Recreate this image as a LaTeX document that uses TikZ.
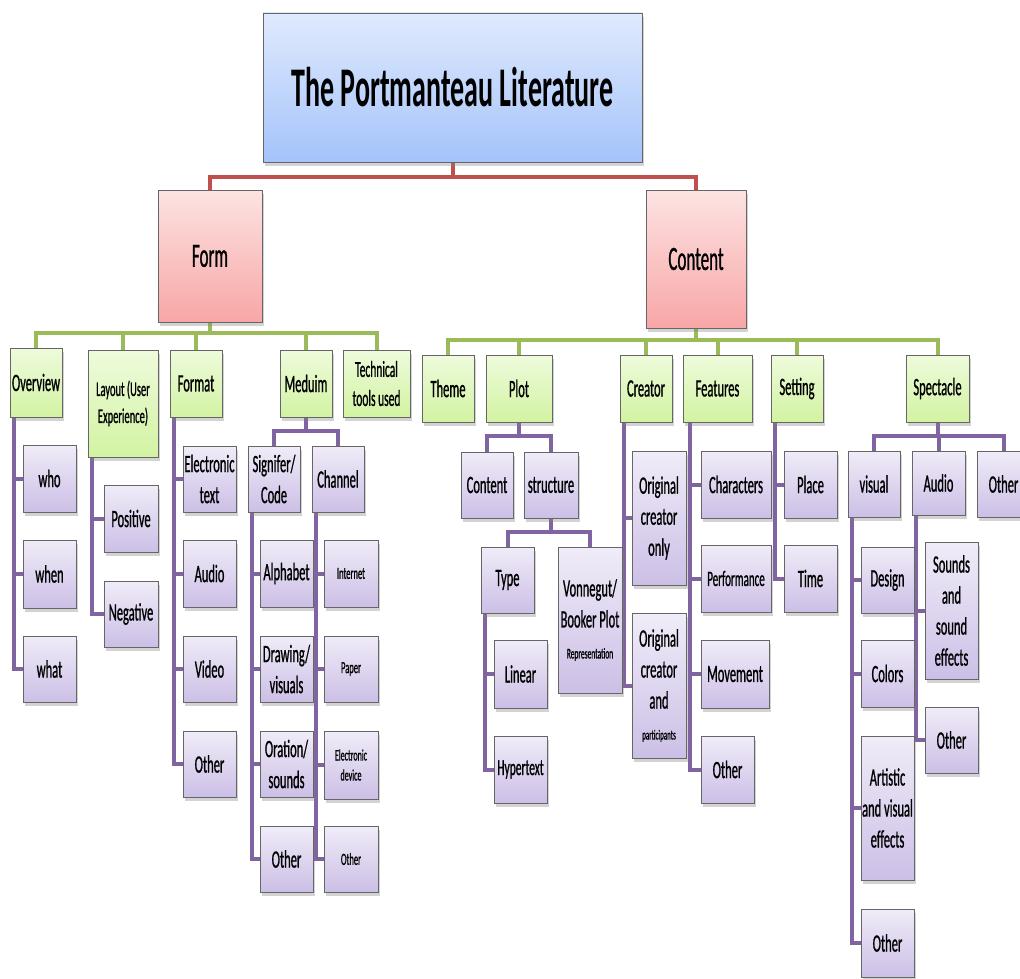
\documentclass[tikz,border=0pt]{standalone}
\usepackage{fontspec}
\setmainfont{Carlito}[FakeStretch=0.5, UprightFeatures={FakeBold=0.8}]
\usetikzlibrary{shadows,backgrounds}
\definecolor{gtop}{HTML}{EEFBDC}
\definecolor{gbot}{HTML}{D2F3A2}
\definecolor{ptop}{HTML}{F0ECF8}
\definecolor{pbot}{HTML}{CCBFE6}
\definecolor{rtop}{HTML}{FDE3E3}
\definecolor{rbot}{HTML}{F8A6A6}
\definecolor{btop}{HTML}{E0EAFD}
\definecolor{bbot}{HTML}{A4C3FA}
\definecolor{gline}{HTML}{9BBB59}
\definecolor{pline}{HTML}{8064A2}
\definecolor{rline}{HTML}{C0504D}
\tikzset{
  base/.style={draw=black!60, line width=0.8pt, inner sep=0pt, align=center,
    font=\fontsize{25}{31}\selectfont,
    drop shadow={shadow xshift=2pt, shadow yshift=-4pt, opacity=0.35}},
  gbox/.style={base, top color=gtop, bottom color=gbot},
  pbox/.style={base, top color=ptop, bottom color=pbot},
  rbox/.style={base, top color=rtop, bottom color=rbot, font=\fontsize{34}{40}\selectfont},
  bbox/.style={base, top color=btop, bottom color=bbot, font=\bfseries\fontsize{56}{60}\selectfont},
  conn/.style={line width=4pt},
  gl/.style={conn, draw=gline},
  pl/.style={conn, draw=pline},
  rl/.style={conn, draw=rline},
  small/.style={font=\fontsize{17}{20}\selectfont}
}
\newcommand\bx[7]{\node[#6, minimum width={(#4-#2)*1pt}, minimum height={(#5-#3)*1pt}] (#1) at ({(#2+#4)/2},{(#3+#5)/2}) {#7};}
\begin{document}
\begin{tikzpicture}[x=1pt,y=-1pt]
\useasboundingbox (0,0) rectangle (1020,979);
% top levels
\bx{title}{263}{13}{642}{162}{bbox}{The Portmanteau Literature}
\bx{form}{158}{190}{262}{322}{rbox}{Form}
\bx{content}{646}{190}{746}{328}{rbox}{Content}
% form children
\bx{overview}{10}{348}{62}{417}{gbox}{Overview}
\bx{layout}{88}{350}{158}{457}{gbox,font=\fontsize{21}{27}\selectfont}{Layout (User\\Experience)}
\bx{format}{170}{350}{222}{417}{gbox}{Format}
\bx{medium}{280}{350}{332}{417}{gbox}{Meduim}
\bx{tech}{343}{350}{410}{417}{gbox,font=\fontsize{23}{29}\selectfont}{Technical\\tools used}
\bx{who}{23}{445}{76}{512}{pbox}{who}
\bx{when}{23}{540}{76}{608}{pbox}{when}
\bx{what}{23}{636}{76}{702}{pbox}{what}
\bx{positive}{104}{485}{158}{552}{pbox}{Positive}
\bx{negative}{104}{581}{158}{647}{pbox}{Negative}
\bx{etext}{183}{446}{236}{512}{pbox}{Electronic\\text}
\bx{faudio}{183}{540}{236}{607}{pbox}{Audio}
\bx{fvideo}{183}{636}{236}{702}{pbox}{Video}
\bx{fother}{183}{731}{236}{797}{pbox}{Other}
\bx{signifer}{248}{446}{300}{512}{pbox}{Signifer/\\Code}
\bx{channel}{312}{446}{364}{512}{pbox}{Channel}
\bx{alphabet}{260}{540}{313}{607}{pbox}{Alphabet}
\bx{drawing}{260}{636}{313}{702}{pbox}{Drawing/\\visuals}
\bx{oration}{260}{731}{313}{797}{pbox}{Oration/\\sounds}
\bx{sother}{260}{826}{313}{892}{pbox}{Other}
\bx{internet}{324}{540}{378}{607}{pbox,small}{Internet}
\bx{paper}{324}{636}{378}{702}{pbox,small}{Paper}
\bx{edevice}{324}{731}{378}{799}{pbox,font=\fontsize{16}{20}\selectfont}{Electronic\\device}
\bx{cother}{324}{826}{378}{892}{pbox,small}{Other}
% content children
\bx{theme}{422}{355}{474}{422}{gbox}{Theme}
\bx{plot}{486}{355}{552}{422}{gbox}{Plot}
\bx{creator}{620}{355}{672}{422}{gbox}{Creator}
\bx{features}{683}{355}{752}{422}{gbox}{Features}
\bx{setting}{771}{355}{823}{422}{gbox}{Setting}
\bx{spectacle}{906}{355}{969}{422}{gbox}{Spectacle}
\bx{pcontent}{461}{452}{513}{518}{pbox}{Content}
\bx{structure}{524}{452}{578}{518}{pbox}{structure}
\bx{type}{481}{547}{534}{613}{pbox}{Type}
\bx{vonnegut}{558}{547}{622}{693}{pbox}{Vonnegut/\\Booker Plot\\{\fontsize{15}{18}\selectfont Representation}}
\bx{linear}{494}{640}{547}{708}{pbox}{Linear}
\bx{hypertext}{494}{736}{547}{803}{pbox,font=\fontsize{23}{29}\selectfont}{Hypertext}
\bx{origone}{632}{451}{686}{585}{pbox}{Original\\creator\\only}
\bx{origtwo}{632}{613}{686}{758}{pbox}{Original\\creator\\and\\{\fontsize{14}{18}\selectfont participants}}
\bx{characters}{701}{451}{771}{518}{pbox}{Characters}
\bx{performance}{701}{545}{771}{612}{pbox,font=\fontsize{22}{28}\selectfont}{Performance}
\bx{movement}{701}{640}{769}{708}{pbox}{Movement}
\bx{feother}{701}{736}{754}{803}{pbox}{Other}
\bx{place}{784}{451}{837}{518}{pbox}{Place}
\bx{time}{784}{545}{837}{612}{pbox}{Time}
\bx{visual}{848}{451}{900}{517}{pbox}{visual}
\bx{saudio}{912}{451}{965}{515}{pbox}{Audio}
\bx{spother}{977}{451}{1030}{517}{pbox}{Other}
\bx{design}{861}{547}{914}{613}{pbox}{Design}
\bx{colors}{861}{640}{914}{707}{pbox}{Colors}
\bx{artistic}{861}{736}{914}{880}{pbox}{Artistic\\and visual\\effects}
\bx{vother}{861}{909}{914}{977}{pbox}{Other}
\bx{sounds}{925}{542}{978}{679}{pbox}{Sounds\\and\\sound\\effects}
\bx{aother}{925}{707}{978}{773}{pbox}{Other}
% bracket coordinates
\coordinate (rb) at (452,177);
\coordinate (fb) at (209,333);
\coordinate (cb) at (696,340);
\coordinate (mb) at (305,431);
\coordinate (pb) at (519,436);
\coordinate (sb) at (551,532);
\coordinate (spb) at (938,436);
\begin{scope}[on background layer]
% red
\draw[rl] (title.south) -- (title.south |- rb);
\draw[rl] (form.north) |- (rb) -| (content.north);
% green form
\draw[gl] (form.south) -- (form.south |- fb);
\draw[gl] (overview.north) |- (fb) -| (tech.north);
\foreach \n in {layout,format,medium} \draw[gl] (\n.north) -- (\n.north |- fb);
% green content
\draw[gl] (content.south) -- (content.south |- cb);
\draw[gl] (theme.north) |- (cb) -| (spectacle.north);
\foreach \n in {plot,creator,features,setting} \draw[gl] (\n.north) -- (\n.north |- cb);
% purple brackets
\draw[pl] (medium.south) -- (medium.south |- mb);
\draw[pl] (signifer.north) |- (mb) -| (channel.north);
\draw[pl] (plot.south) -- (plot.south |- pb);
\draw[pl] (pcontent.north) |- (pb) -| (structure.north);
\draw[pl] (structure.south) -- (structure.south |- sb);
\draw[pl] (type.north) |- (sb) -| (vonnegut.north);
\draw[pl] (spectacle.south) -- (spectacle.south |- spb);
\draw[pl] (visual.north) |- (spb) -| (spother.north);
\draw[pl] (saudio.north) -- (saudio.north |- spb);
% side rails
\foreach \p/\c in {overview/who,overview/when,overview/what,
  layout/positive,layout/negative,
  format/etext,format/faudio,format/fvideo,format/fother,
  signifer/alphabet,signifer/drawing,signifer/oration,signifer/sother,
  channel/internet,channel/paper,channel/edevice,channel/cother,
  type/linear,type/hypertext,
  creator/origone,creator/origtwo,
  setting/place,setting/time,
  visual/design,visual/colors,visual/artistic,visual/vother,
  saudio/sounds,saudio/aother}
  \draw[pl] ([xshift=4.5pt]\p.south west) |- (\c.west);
\foreach \c in {characters,performance,movement,feother}
  \draw[pl] ([xshift=7pt]features.south west) |- (\c.west);
\end{scope}
\end{tikzpicture}
\end{document}
